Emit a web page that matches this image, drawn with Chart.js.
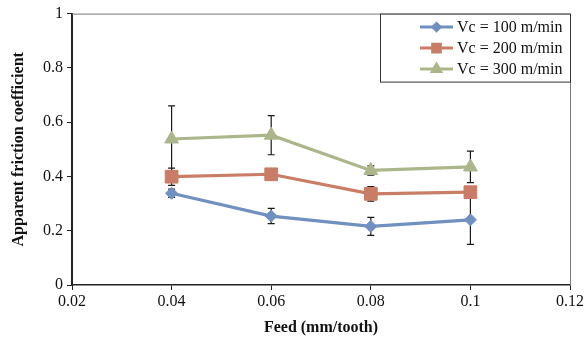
<!DOCTYPE html>
<html>
<head>
<meta charset="utf-8">
<script src="https://cdn.jsdelivr.net/npm/chart.js@4.4.1/dist/chart.umd.min.js"></script>
<style>
  html, body { margin: 0; padding: 0; background: #fff; }
  #wrap { width: 587px; height: 337px; position: relative; }
</style>
</head>
<body>
<div id="wrap"><canvas id="chart"></canvas></div>
<script>
// feed values (mm/tooth) and apparent friction coefficient per cutting speed
const feed = [0.04, 0.06, 0.08, 0.1];
const vc100 = [0.338, 0.254, 0.216, 0.240];
const vc100Err = [0.015, 0.028, 0.033, 0.09];
const vc200 = [0.399, 0.408, 0.336, 0.342];
const vc200Err = [0.032, 0.01, 0.027, 0.02];
const vc300 = [0.538, 0.552, 0.422, 0.435];
const vc300Err = [0.122, 0.072, 0.017, 0.058];
const seriesLabels = ['Vc = 100 m/min', 'Vc = 200 m/min', 'Vc = 300 m/min'];

const FONT = '"Liberation Serif", "Times New Roman", serif';
const colors = ['#7090bf', '#c97d66', '#abb78b'];

const toPoints = (ys, errs) => ys.map((y, i) => ({ x: feed[i], y: y, err: errs[i] }));
const fmt = v => String(+(+v).toFixed(2));

// error bars drawn under the lines, through the chart scales
const errorBars = {
    id: 'errorBars',
    beforeDatasetsDraw(chart) {
        const ctx = chart.ctx;
        const xs = chart.scales.x, ys = chart.scales.y;
        ctx.save();
        ctx.strokeStyle = '#1a1a1a';
        ctx.lineWidth = 1.2;
        chart.data.datasets.forEach(ds => {
            ds.data.forEach(p => {
                const px = xs.getPixelForValue(p.x);
                const top = ys.getPixelForValue(p.y + p.err);
                const bot = ys.getPixelForValue(p.y - p.err);
                ctx.beginPath();
                ctx.moveTo(px, top); ctx.lineTo(px, bot);
                ctx.moveTo(px - 3.5, top); ctx.lineTo(px + 3.5, top);
                ctx.moveTo(px - 3.5, bot); ctx.lineTo(px + 3.5, bot);
                ctx.stroke();
            });
        });
        ctx.restore();
    }
};

// top and right frame of the plot area, plus the boxed legend
const frameAndLegend = {
    id: 'frameAndLegend',
    afterDraw(chart) {
        const ctx = chart.ctx;
        const a = chart.chartArea;
        ctx.save();
        ctx.strokeStyle = '#777';
        ctx.lineWidth = 1;
        ctx.beginPath();
        ctx.moveTo(a.left, a.top + 0.5); ctx.lineTo(a.right + 0.5, a.top + 0.5);
        ctx.lineTo(a.right + 0.5, a.bottom);
        ctx.stroke();

        // legend box
        const bx = 380.5, by = a.top + 0.5, bw = a.right - 380, bh = 68;
        ctx.fillStyle = '#fff';
        ctx.fillRect(bx, by, bw, bh);
        ctx.strokeStyle = '#333';
        ctx.strokeRect(bx, by, bw, bh);

        ctx.font = '16px ' + FONT;
        ctx.textBaseline = 'middle';
        chart.data.datasets.forEach((ds, i) => {
            const ly = by + 13 + i * 21;
            ctx.strokeStyle = ds.borderColor;
            ctx.lineWidth = 3;
            ctx.beginPath();
            ctx.moveTo(420, ly); ctx.lineTo(453, ly);
            ctx.stroke();
            Chart.helpers.drawPoint(ctx, {
                pointStyle: ds.pointStyle,
                radius: ds.pointRadius * 0.6,
                borderWidth: 1
            }, 436.5, ly);
            ctx.fillStyle = ds.borderColor;
            ctx.fill();
            ctx.fillStyle = '#111';
            ctx.fillText(ds.label, 457, ly + 1);
        });
        ctx.restore();
    }
};

const mkSet = (label, data, color, style, radius) => ({
    label: label,
    data: data,
    borderColor: color,
    backgroundColor: color,
    borderWidth: 3.2,
    pointStyle: style,
    pointRadius: radius,
    pointHoverRadius: radius,
    pointBorderWidth: 1,
    tension: 0
});

new Chart(document.getElementById('chart'), {
    type: 'line',
    data: {
        datasets: [
            mkSet(seriesLabels[0], toPoints(vc100, vc100Err), colors[0], 'rectRot', 6),
            mkSet(seriesLabels[1], toPoints(vc200, vc200Err), colors[1], 'rect', 9),
            mkSet(seriesLabels[2], toPoints(vc300, vc300Err), colors[2], 'triangle', 8)
        ]
    },
    options: {
        responsive: true,
        maintainAspectRatio: false,
        animation: false,
        layout: { padding: { top: 10, right: 17, left: 0, bottom: 0 } },
        scales: {
            x: {
                type: 'linear',
                min: 0.02,
                max: 0.12,
                ticks: {
                    stepSize: 0.02,
                    color: '#111',
                    font: { family: FONT, size: 16 },
                    padding: 2,
                    callback: fmt
                },
                grid: { drawOnChartArea: false, drawTicks: true, tickLength: 5, color: '#222' },
                border: { color: '#222', width: 1.5 },
                title: {
                    display: true,
                    text: 'Feed (mm/tooth)',
                    color: '#111',
                    font: { family: FONT, size: 16, weight: 'bold' },
                    padding: { top: 1, bottom: 0 }
                },
                afterFit: s => { s.height = 52; }
            },
            y: {
                min: 0,
                max: 1,
                ticks: {
                    stepSize: 0.2,
                    color: '#111',
                    font: { family: FONT, size: 16 },
                    padding: 4,
                    callback: fmt
                },
                grid: { drawOnChartArea: false, drawTicks: true, tickLength: 5, color: '#222' },
                border: { color: '#222', width: 2 },
                title: {
                    display: true,
                    text: 'Apparent friction coefficient',
                    color: '#111',
                    font: { family: FONT, size: 16, weight: 'bold' },
                    padding: { top: 9, bottom: 0 }
                },
                afterFit: s => { s.width = 72; }
            }
        },
        plugins: {
            legend: { display: false },
            tooltip: { enabled: false }
        }
    },
    plugins: [errorBars, frameAndLegend]
});
</script>
</body>
</html>
